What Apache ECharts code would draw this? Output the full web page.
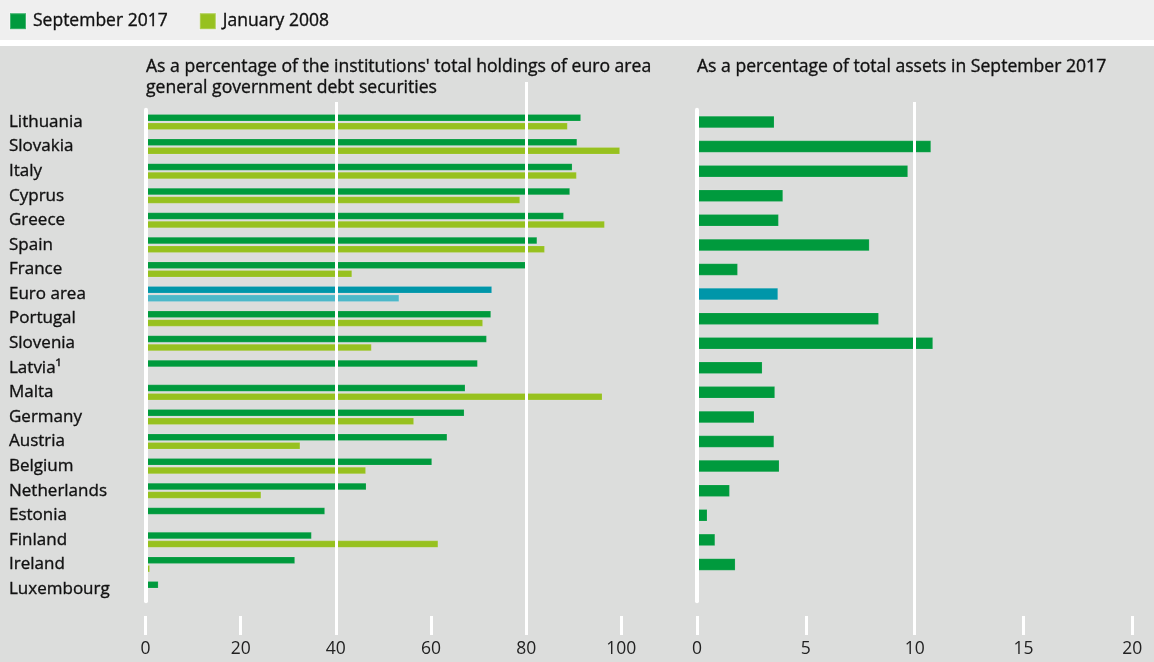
<!DOCTYPE html>
<html>
<head>
<meta charset="utf-8">
<style>
  html, body { margin: 0; padding: 0; background: #dcdddc; }
  #chart { width: 1154px; height: 662px; }
</style>
<script src="https://cdn.jsdelivr.net/npm/echarts@6/dist/echarts.min.js"></script>
</head>
<body>
<div id="chart"></div>
<script>
// Countries, top to bottom
const countries = ['Lithuania', 'Slovakia', 'Italy', 'Cyprus', 'Greece', 'Spain', 'France', 'Euro area',
  'Portugal', 'Slovenia', 'Latvia¹', 'Malta', 'Germany', 'Austria', 'Belgium', 'Netherlands',
  'Estonia', 'Finland', 'Ireland', 'Luxembourg'];

// Share of the institutions' holdings of euro area general government debt securities (%)
const holdingsSep2017 = [91.5, 90.7, 89.7, 89.2, 87.9, 82.3, 79.9, 72.8, 72.6, 71.7, 69.8, 67.2, 67.0, 63.4, 60.2, 46.4, 37.7, 34.9, 31.4, 2.7];
const holdingsJan2008 = [88.7, 99.7, 90.6, 78.7, 96.5, 83.9, 43.4, 53.3, 70.9, 47.5, null, 96.0, 56.4, 32.5, 46.3, 24.3, null, 61.5, 0.9, null];

// Share of total assets in September 2017 (%)
const assetsSep2017 = [3.55, 10.75, 9.69, 3.95, 3.75, 7.92, 1.87, 3.72, 8.35, 10.84, 3.0, 3.58, 2.63, 3.54, 3.78, 1.50, 0.47, 0.83, 1.76, 0.1];

// Tick labels
const leftTicks = [0, 20, 40, 60, 80, 100];
const rightTicks = [0, 5, 10, 15, 20];

const seriesNames = ['September 2017', 'January 2008'];
const panelTitles = [
  "As a percentage of the institutions' total holdings of euro area\ngeneral government debt securities",
  'As a percentage of total assets in September 2017'
];

const FONT = '"Open Sans", "Noto Sans", sans-serif';
const TEXT = '#111111';
const DARK = '#009a3d';
const LIGHT = '#97c11f';
const EA_DARK = '#0096a9';
const EA_LIGHT = '#4db8c9';
const EA = 'Euro area';

// Slightly heavier text strokes
const heavy = { textBorderColor: TEXT, textBorderWidth: 0.35 };

function colorize(values, ea) {
  return values.map((v, i) => countries[i] === EA
    ? { value: v, itemStyle: { color: ea } }
    : v);
}

// Panel geometry (pixels)
const L = { left: 145.5, width: 475.8 };
const R = { left: 697, width: 435.3 };
const barTop = 109.7, barHeight = 491.6;
const axisBottom = 662 - 635;

const chart = echarts.init(document.getElementById('chart'), null, { renderer: 'canvas' });

const hidden = { show: false };
const labelStyle = { color: '#222', fontSize: 17.5, fontFamily: FONT, margin: 5 };
const gridLine = { show: true, showMinLine: false, showMaxLine: false, lineStyle: { color: '#fff', width: 3 } };
const tickMarks = { show: true, inside: true, length: 19, lineStyle: { color: '#fff', width: 3 } };
const titleStyle = Object.assign({ fontSize: 17.6, fontWeight: 'normal', color: TEXT, lineHeight: 21, fontFamily: FONT }, heavy);

chart.setOption({
  backgroundColor: '#dcdddc',
  animation: false,
  textStyle: { fontFamily: FONT },
  graphic: {
    elements: [
      { type: 'rect', left: 0, top: 0, z: 0, shape: { width: 1154, height: 40 }, style: { fill: '#efefef' } },
      { type: 'rect', left: 0, top: 40, z: 0, shape: { width: 1154, height: 6 }, style: { fill: '#ffffff' } }
    ]
  },
  legend: {
    left: 9, top: 12, padding: 0, itemWidth: 16, itemHeight: 16, itemGap: 31, icon: 'rect',
    data: seriesNames,
    textStyle: Object.assign({ fontSize: 17.5, color: TEXT, fontFamily: FONT, padding: [0, 0, 0, 2] }, heavy)
  },
  title: [
    { text: panelTitles[0], left: 146, top: 56, padding: 0, textStyle: titleStyle },
    { text: panelTitles[1], left: 697, top: 56, padding: 0, textStyle: titleStyle }
  ],
  grid: [
    { left: L.left, width: L.width, top: barTop, height: barHeight },           // 0 left bars
    { left: R.left, width: R.width, top: barTop, height: barHeight },           // 1 right bars
    { left: L.left, width: L.width, top: 102, bottom: axisBottom },             // 2 left grid lines + ticks
    { left: L.left, width: L.width, top: 82, bottom: axisBottom },              // 3 left 80 line (taller)
    { left: R.left, width: R.width, top: 102, bottom: axisBottom }              // 4 right grid line + ticks
  ],
  xAxis: [
    { gridIndex: 0, type: 'value', min: 0, max: 100, axisLine: hidden, axisTick: hidden, axisLabel: hidden, splitLine: hidden },
    { gridIndex: 1, type: 'value', min: 0, max: 20, axisLine: hidden, axisTick: hidden, axisLabel: hidden, splitLine: hidden },
    { gridIndex: 2, type: 'value', min: 0, max: 100, interval: 20, z: 5,
      axisLine: hidden, axisTick: tickMarks,
      axisLabel: Object.assign({ formatter: v => leftTicks.includes(v) ? String(v) : '' }, labelStyle),
      splitLine: hidden },
    { gridIndex: 2, type: 'value', min: 0, max: 100, interval: 40, z: 5, position: 'bottom',
      axisLine: hidden, axisTick: hidden, axisLabel: hidden, splitLine: gridLine },
    { gridIndex: 3, type: 'value', min: 0, max: 100, interval: 80, z: 5,
      axisLine: hidden, axisTick: hidden, axisLabel: hidden, splitLine: gridLine },
    { gridIndex: 4, type: 'value', min: 0, max: 20, interval: 5, z: 5,
      axisLine: hidden, axisTick: tickMarks,
      axisLabel: Object.assign({ formatter: v => rightTicks.includes(v) ? String(v) : '' }, labelStyle),
      splitLine: hidden },
    { gridIndex: 4, type: 'value', min: 0, max: 20, interval: 10, z: 5, position: 'bottom',
      axisLine: hidden, axisTick: hidden, axisLabel: hidden, splitLine: gridLine }
  ],
  yAxis: [
    { gridIndex: 0, type: 'category', data: countries, inverse: true, z: 6,
      axisLine: { show: true, lineStyle: { color: '#fff', width: 4 } },
      axisTick: hidden,
      axisLabel: Object.assign({ align: 'left', margin: L.left - 9, fontSize: 17, color: TEXT, fontFamily: FONT }, heavy),
      splitLine: hidden },
    { gridIndex: 1, type: 'category', data: countries, inverse: true, z: 6,
      axisLine: { show: true, lineStyle: { color: '#fff', width: 4 } },
      axisTick: hidden, axisLabel: hidden, splitLine: hidden },
    { gridIndex: 2, type: 'value', show: false },
    { gridIndex: 3, type: 'value', show: false },
    { gridIndex: 4, type: 'value', show: false }
  ],
  series: [
    { name: seriesNames[0], type: 'bar', xAxisIndex: 0, yAxisIndex: 0,
      barWidth: 7, barGap: '22%',
      itemStyle: { color: DARK, borderColor: 'rgba(255,255,255,0.25)', borderWidth: 0.5 },
      data: colorize(holdingsSep2017, EA_DARK) },
    { name: seriesNames[1], type: 'bar', xAxisIndex: 0, yAxisIndex: 0,
      barWidth: 7, barGap: '22%',
      itemStyle: { color: LIGHT, borderColor: 'rgba(255,255,255,0.25)', borderWidth: 0.5 },
      data: colorize(holdingsJan2008, EA_LIGHT) },
    { name: seriesNames[0], type: 'bar', xAxisIndex: 1, yAxisIndex: 1,
      barWidth: 12,
      itemStyle: { color: DARK, borderColor: 'rgba(255,255,255,0.25)', borderWidth: 0.5 },
      data: colorize(assetsSep2017, EA_DARK) }
  ]
});
</script>
</body>
</html>
